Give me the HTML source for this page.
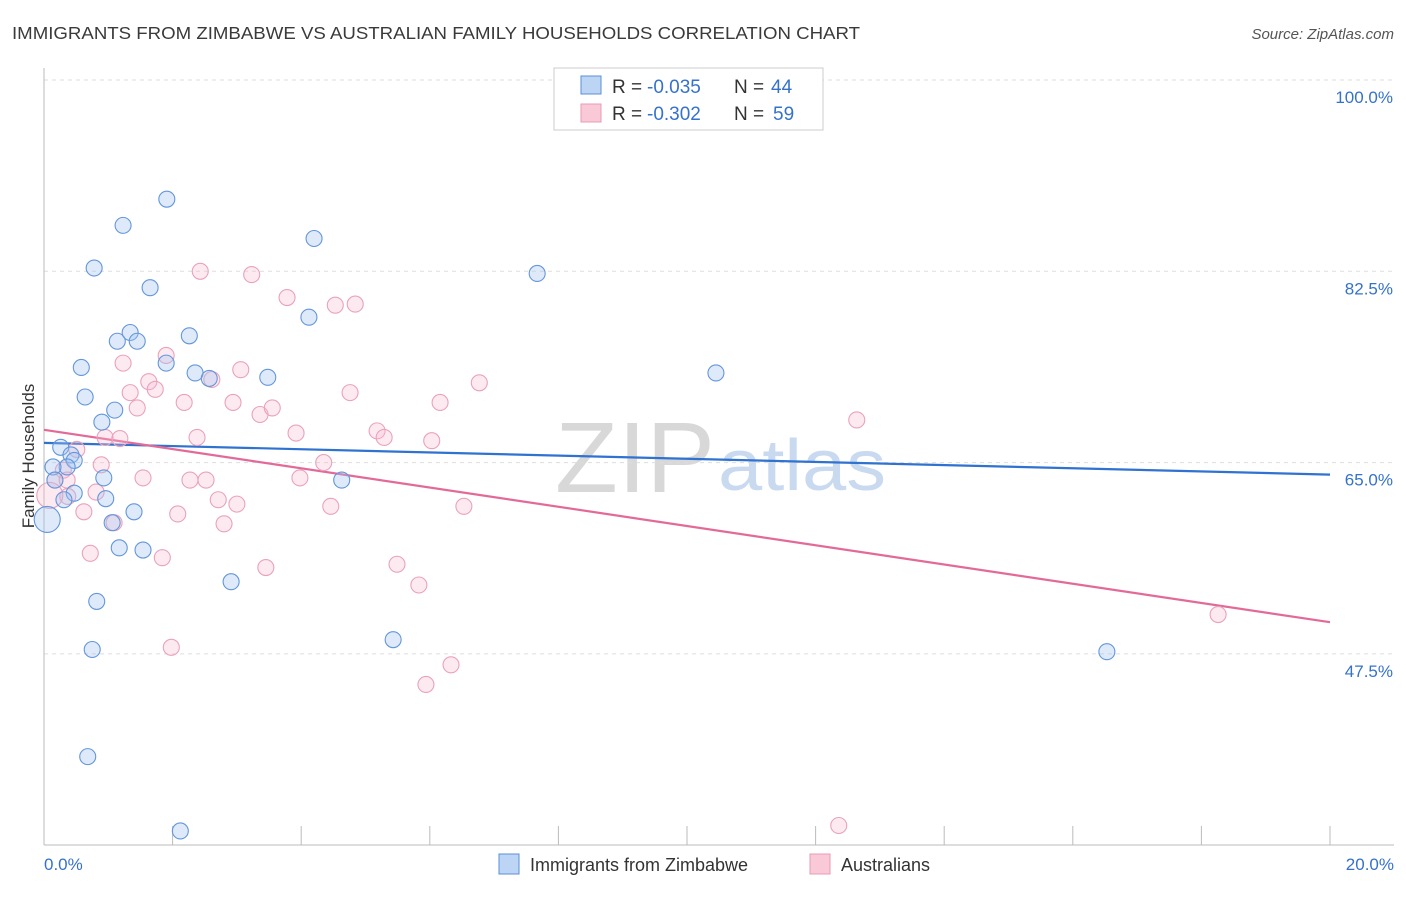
<!DOCTYPE html>
<html><head><meta charset="utf-8"><style>
body{margin:0;background:#fff;font-family:"Liberation Sans",sans-serif;}
svg text{font-family:"Liberation Sans",sans-serif;}
</style></head><body>
<svg id="chart" width="1406" height="892" viewBox="0 0 1406 892" xmlns="http://www.w3.org/2000/svg">
<text x="12" y="39" font-size="17.5" fill="#3a3a3a" textLength="848" lengthAdjust="spacingAndGlyphs">IMMIGRANTS FROM ZIMBABWE VS AUSTRALIAN FAMILY HOUSEHOLDS CORRELATION CHART</text>
<text x="1394" y="39" font-size="15" fill="#555" font-style="italic" text-anchor="end">Source: ZipAtlas.com</text>
<text x="555" y="492" font-size="100" fill="#d8d8d8" textLength="160" lengthAdjust="spacingAndGlyphs" font-family="Liberation Serif">ZIP</text>
<text x="718" y="490" font-size="72" fill="#c9daf0" textLength="168" lengthAdjust="spacingAndGlyphs">atlas</text>
<g id="grid"></g><g id="axes"></g><g id="trend"></g><g id="points"></g>
<text transform="translate(34,456) rotate(-90)" font-size="17" fill="#333" text-anchor="middle">Family Households</text>
<g>
<rect x="554" y="68" width="269" height="62" fill="#fff" stroke="#ccc"/>
<rect x="581" y="76" width="20" height="18" fill="#bcd5f5" stroke="#5b8fd6"/>
<text x="612" y="93" font-size="19" fill="#333">R =</text>
<text x="647" y="93" font-size="19" fill="#3572cc">-0.035</text>
<text x="734" y="93" font-size="19" fill="#333">N =</text>
<text x="771" y="93" font-size="19" fill="#3572cc">44</text>
<rect x="581" y="104" width="20" height="18" fill="#fac9d8" stroke="#e89ab5"/>
<text x="612" y="120" font-size="19" fill="#333">R =</text>
<text x="647" y="120" font-size="19" fill="#3572cc">-0.302</text>
<text x="734" y="120" font-size="19" fill="#333">N =</text>
<text x="773" y="120" font-size="19" fill="#3572cc">59</text>
</g>
<g>
<rect x="499" y="854" width="20" height="20" fill="#bcd5f5" stroke="#5b8fd6"/>
<text x="530" y="871" font-size="18" fill="#333">Immigrants from Zimbabwe</text>
<rect x="810" y="854" width="20" height="20" fill="#fac9d8" stroke="#e89ab5"/>
<text x="841" y="871" font-size="18" fill="#333">Australians</text>
</g>
</svg>
<script>
const NS="http://www.w3.org/2000/svg";
const yTicks=[100,82.5,65,47.5];
const yTickLabels=["100.0%","82.5%","65.0%","47.5%"];
const xTicks=[0,2,4,6,8,10,12,14,16,18,20];
const xEndLabels=["0.0%","20.0%"];
const blueX=[1.91,1.23,4.20,0.78,1.65,7.67,4.12,1.34,1.14,1.45,2.26,0.58,1.90,2.35,2.57,3.48,10.45,0.64,1.10,0.90,0.26,0.42,0.47,0.36,0.14,0.17,0.93,0.47,0.31,0.96,1.40,1.06,4.63,0.05,1.17,1.54,2.91,0.82,5.43,0.75,16.53,0.68,2.12];
const blueY=[89.1,86.7,85.5,82.8,81.0,82.3,78.3,76.9,76.1,76.1,76.6,73.7,74.1,73.2,72.7,72.8,73.2,71.0,69.8,68.7,66.4,65.7,65.2,64.6,64.6,63.4,63.6,62.2,61.6,61.7,60.5,59.5,63.4,59.8,57.2,57.0,54.1,52.3,48.8,47.9,47.7,38.1,31.3];
const pinkX=[2.43,3.23,3.78,4.53,4.84,1.90,1.23,3.06,1.63,1.34,1.73,2.61,4.76,6.77,2.18,2.94,1.45,3.36,3.55,6.16,12.64,0.95,1.18,2.38,3.92,5.18,5.29,6.03,0.51,0.89,0.30,0.17,0.36,1.54,2.27,2.52,3.98,4.35,0.81,0.37,2.71,3.00,4.46,6.53,0.62,2.08,1.09,2.80,0.72,1.84,3.45,5.49,5.83,1.98,6.33,5.94,18.26,12.36,0.09];
const pinkY=[82.5,82.2,80.1,79.4,79.5,74.8,74.1,73.5,72.4,71.4,71.7,72.6,71.4,72.3,70.5,70.5,70.0,69.4,70.0,70.5,68.9,67.3,67.2,67.3,67.7,67.9,67.3,67.0,66.2,64.8,64.3,63.4,63.4,63.6,63.4,63.4,63.6,65.0,62.3,61.9,61.6,61.2,61.0,61.0,60.5,60.3,59.5,59.4,56.7,56.3,55.4,55.7,53.8,48.1,46.5,44.7,51.1,31.8,62.0];
const blueTrend=[66.8,63.9];
const pinkTrend=[68.0,50.4];
const X=v=>44+v*64.3;
const Y=v=>80+(100-v)*10.931;
function mk(tag,attrs,parent){const e=document.createElementNS(NS,tag);for(const k in attrs)e.setAttribute(k,attrs[k]);document.getElementById(parent).appendChild(e);return e;}
yTicks.forEach((t,i)=>{
 const l=mk('line',{x1:44,x2:1394,y1:Y(t),y2:Y(t),stroke:'#ddd','stroke-dasharray':'4,4'},'grid');
 
 
 const tx=mk('text',{x:1393,y:Y(t)+23,'font-size':17,fill:'#3572cc','text-anchor':'end'},'grid');
 tx.textContent=yTickLabels[i];
 
 
});
const ax=mk('line',{x1:44,x2:44,y1:68,y2:845,stroke:'#bbb'},'axes');


const bx=mk('line',{x1:44,x2:1394,y1:845,y2:845,stroke:'#bbb'},'axes');


xTicks.forEach(t=>{
 const l=mk('line',{x1:X(t),x2:X(t),y1:826,y2:845,stroke:'#bbb'},'axes');
 
 
});
[[0,'start',44],[20,'end',1394]].forEach((a,i)=>{
 const tx=mk('text',{x:a[2],y:870,'font-size':17,fill:'#3572cc','text-anchor':a[1]},'axes');
 tx.textContent=xEndLabels[i];
 
 
});
function dots(xs,ys,fill,stroke,name){
 xs.forEach((x,i)=>{
  const big=(name==='zimbabwe-point'&&i===33)||(name==='australian-point'&&i===58);
  const c=mk('circle',{cx:X(x),cy:Y(ys[i]),r:big?13:8,fill:fill,stroke:stroke,'stroke-width':1.1},'points');
  
  
 });
}
dots(pinkX,pinkY,'rgba(248,185,208,0.3)','#e9a2bb','australian-point');
dots(blueX,blueY,'rgba(160,196,240,0.35)','#6396da','zimbabwe-point');
const bt=mk('line',{x1:X(0),y1:Y(blueTrend[0]),x2:X(20),y2:Y(blueTrend[1]),stroke:'#2f72d0','stroke-width':2.2},'trend');


const pt=mk('line',{x1:X(0),y1:Y(pinkTrend[0]),x2:X(20),y2:Y(pinkTrend[1]),stroke:'#e36a98','stroke-width':2.2},'trend');


</script>
</body></html>
